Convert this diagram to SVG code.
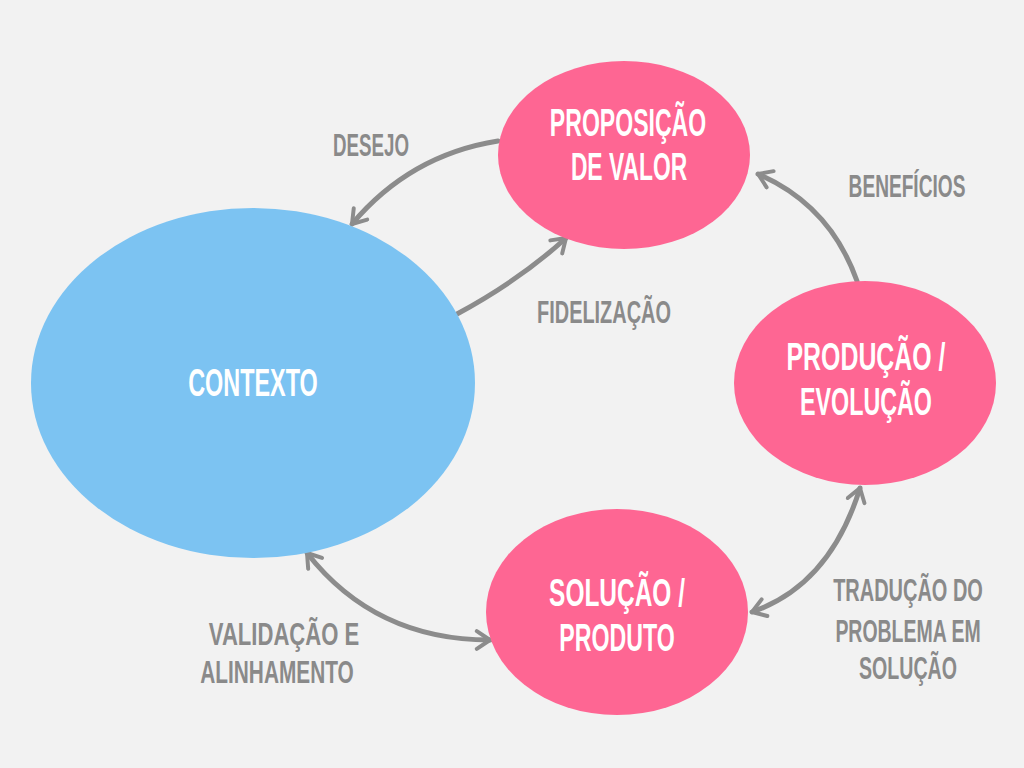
<svg xmlns="http://www.w3.org/2000/svg" width="1024" height="768" viewBox="0 0 1024 768">
<defs>
<style>
.node-text{font-family:"Liberation Sans",Arial,sans-serif;font-weight:bold;fill:#ffffff;text-anchor:middle;font-size:38px}
.label{font-family:"Liberation Sans",Arial,sans-serif;font-weight:bold;fill:#8a8a8a;text-anchor:middle;font-size:31px}
.pink{fill:#fe6693}
.blue{fill:#7cc3f2}
.conn{fill:none;stroke:#8c8c8c;stroke-width:5;stroke-linecap:round}
</style>
<marker id="arr" viewBox="0 0 20 20" refX="17" refY="10" markerWidth="22" markerHeight="22" markerUnits="userSpaceOnUse" orient="auto-start-reverse">
<path d="M5,2 L17,10 L5,18" fill="none" stroke="#8c8c8c" stroke-width="3.6" stroke-linecap="round" stroke-linejoin="round"/>
</marker>
</defs>
<rect width="1024" height="768" fill="#f2f2f2"/>
<g id="connectors">
<path class="conn" d="M498,141 Q410,155 352,224" marker-end="url(#arr)"/>
<path class="conn" d="M457,314 Q520,280 566,238" marker-end="url(#arr)"/>
<path class="conn" d="M857,281 Q830,205 758,174" marker-end="url(#arr)"/>
<path class="conn" d="M860,488 Q830,585 752,612" marker-start="url(#arr)" marker-end="url(#arr)"/>
<path class="conn" d="M307,553 Q375,640 490,640" marker-start="url(#arr)" marker-end="url(#arr)"/>
</g>
<g id="contexto">
<ellipse class="blue" cx="253" cy="383" rx="222" ry="175"/>
<text class="node-text" transform="translate(253,396) scale(0.616,1)">CONTEXTO</text>
</g>
<g id="proposicao">
<ellipse class="pink" cx="624" cy="155" rx="126" ry="94"/>
<text class="node-text" transform="translate(628,136) scale(0.607,1)">PROPOSIÇÃO</text>
<text class="node-text" transform="translate(629,180) scale(0.601,1)">DE VALOR</text>
</g>
<g id="producao">
<ellipse class="pink" cx="865" cy="383" rx="131" ry="102"/>
<text class="node-text" transform="translate(866,370) scale(0.655,1)">PRODUÇÃO /</text>
<text class="node-text" transform="translate(866,415) scale(0.613,1)">EVOLUÇÃO</text>
</g>
<g id="solucao">
<ellipse class="pink" cx="617" cy="612" rx="131" ry="103"/>
<text class="node-text" transform="translate(617,606) scale(0.644,1)">SOLUÇÃO /</text>
<text class="node-text" transform="translate(617,651) scale(0.61,1)">PRODUTO</text>
</g>
<g id="labels">
<text class="label" transform="translate(371,156) scale(0.604,1)">DESEJO</text>
<text class="label" transform="translate(907,197) scale(0.617,1)">BENEFÍCIOS</text>
<text class="label" transform="translate(604,323) scale(0.643,1)">FIDELIZAÇÃO</text>
<text class="label" transform="translate(284,645) scale(0.712,1)">VALIDAÇÃO E</text>
<text class="label" transform="translate(277,683) scale(0.672,1)">ALINHAMENTO</text>
<text class="label" transform="translate(908,601) scale(0.644,1)">TRADUÇÃO DO</text>
<text class="label" transform="translate(908,642) scale(0.628,1)">PROBLEMA EM</text>
<text class="label" transform="translate(908,679) scale(0.632,1)">SOLUÇÃO</text>
</g>
</svg>
